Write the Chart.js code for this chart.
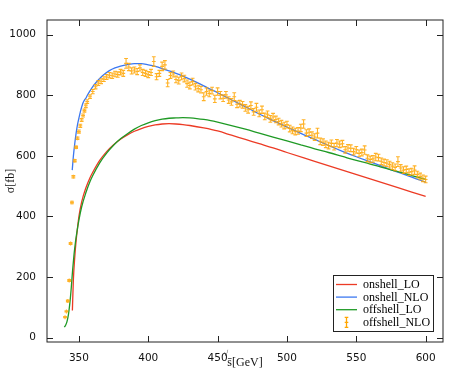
<!DOCTYPE html>
<html>
<head>
<meta charset="utf-8">
<script src="https://cdn.jsdelivr.net/npm/chart.js@4.4.0/dist/chart.umd.min.js"></script>
<style>
  html, body { margin: 0; padding: 0; background: #fff; }
  #wrap { width: 450px; height: 375px; }
</style>
</head>
<body>
<div id="wrap"><canvas id="c" width="450" height="375"></canvas></div>
<script>
// --- data
const xTicks = [350, 400, 450, 500, 550, 600];
const yTicks = [0, 200, 400, 600, 800, 1000];
const seriesNames = ['onshell_LO', 'onshell_NLO', 'offshell_LO', 'offshell_NLO'];

const onLoX = [345.3, 346, 347, 348, 349, 350, 352, 355, 358, 360, 365, 370, 375, 380, 385, 390, 395, 400, 405, 410, 415, 420, 425, 430, 440, 450, 460, 470, 480, 490, 500, 520, 540, 560, 580, 600];
const onLoY = [90, 190, 265, 320, 362, 400, 448, 494, 528, 546, 585, 614, 637, 655, 669, 681, 690, 697, 702, 705, 706, 705, 703, 700, 692, 682, 668, 654, 640, 626, 611, 582, 553, 524, 495, 466];

const onNloX = [345.2, 346, 347, 348, 349, 350, 351, 352, 353, 354, 355, 356, 358, 360, 363, 367, 372, 376, 380, 385, 390, 395, 400, 405, 410, 415, 420, 425, 430, 440, 450, 460, 470, 480, 490, 500, 510, 520, 530, 540, 550, 560, 570, 580, 590, 600];
const onNloY = [553, 598, 640, 675, 703, 724, 744, 761, 775, 784, 790, 799, 814, 828, 845, 864, 881, 890, 896, 901, 904, 904, 900, 895, 888, 880, 872, 863, 853, 831, 808, 785, 762, 738, 716, 695, 674, 654, 634, 615, 597, 580, 563, 546, 530, 513];

const offLoX = [339.5, 340.5, 341.5, 342.5, 343.5, 344.5, 345.5, 346.5, 347.5, 348.5, 350, 352, 355, 358, 360, 365, 370, 375, 380, 385, 390, 395, 400, 405, 410, 415, 420, 425, 430, 435, 440, 445, 450, 460, 470, 480, 490, 500, 510, 520, 530, 540, 550, 560, 570, 580, 590, 600];
const offLoY = [35, 42, 55, 78, 115, 165, 225, 275, 315, 347, 388, 432, 478, 515, 535, 577, 609, 635, 656, 673, 688, 700, 709, 716, 721, 724, 725, 726, 725, 723, 720, 716, 711, 700, 688, 675, 662, 649, 636, 623, 611, 598, 585, 573, 560, 548, 535, 522];

const offNloX = [340, 341, 342, 343, 344, 345, 346, 347, 348, 349, 350, 351, 352, 353, 354, 355,
  356, 358, 360, 362, 364, 366, 368, 370, 372, 374,
  376, 378, 380, 382, 384, 386, 388, 390, 392, 394,
  396, 398, 400, 402, 404, 406, 408, 410, 412, 414,
  416, 418, 420, 422, 424, 426, 428, 430, 432, 434,
  436, 438, 440, 442, 444, 446, 448, 450, 452, 454,
  456, 458, 460, 462, 464, 466, 468, 470, 472, 474,
  476, 478, 480, 482, 484, 486, 488, 490, 492, 494,
  496, 498, 500, 502, 504, 506, 508, 510, 512, 514,
  516, 518, 520, 522, 524, 526, 528, 530, 532, 534,
  536, 538, 540, 542, 544, 546, 548, 550, 552, 554,
  556, 558, 560, 562, 564, 566, 568, 570, 572, 574,
  576, 578, 580, 582, 584, 586, 588, 590, 592, 594,
  596, 598, 600];
const offNloY = [68, 87, 121, 189, 311, 446, 531, 584, 628, 658, 680, 699, 718, 733, 749, 765,
  779, 795, 812, 828, 840, 846, 853, 860, 866, 864,
  870, 868, 876, 872, 905, 893, 880, 883, 878, 890,
  875, 872, 868, 875, 911, 861, 872, 895, 900, 840,
  865, 870, 852, 848, 862, 855, 838, 832, 845, 828,
  822, 818, 795, 812, 806, 815, 788, 812, 800, 790,
  801, 784, 778, 795, 770, 772, 768, 758, 752, 766,
  745, 760, 740, 752, 730, 737, 722, 728, 720, 713,
  706, 700, 703, 690, 684, 680, 682, 692, 705, 675,
  678, 668, 662, 675, 648, 645, 638, 634, 641, 630,
  642, 638, 640, 620, 626, 625, 614, 620, 608, 611,
  619, 592, 588, 590, 596, 594, 582, 578, 576, 571,
  566, 562, 581, 560, 553, 555, 546, 548, 553, 538,
  532, 526, 522];
const offNloErr = [2, 2, 3, 3, 3, 4, 4, 4, 4, 4, 5, 5, 5, 5, 5, 6,
  6, 6, 7, 7, 8, 8, 8, 8, 9, 9,
  9, 9, 9, 10, 16, 12, 10, 10, 10, 10,
  10, 10, 10, 10, 16, 10, 10, 14, 14, 12,
  10, 10, 11, 11, 11, 11, 12, 11, 11, 11,
  11, 11, 13, 12, 11, 11, 12, 12, 12, 11,
  11, 11, 11, 13, 11, 11, 11, 11, 11, 12,
  11, 13, 11, 12, 11, 11, 11, 12, 11, 11,
  11, 11, 11, 11, 11, 11, 11, 12, 14, 11,
  11, 11, 11, 16, 11, 11, 11, 11, 11, 11,
  12, 11, 11, 11, 11, 11, 11, 11, 11, 11,
  14, 11, 11, 11, 12, 11, 11, 11, 11, 11,
  11, 11, 16, 11, 11, 11, 11, 11, 14, 11,
  11, 11, 11];

const RED = '#ec3b25', BLUE = '#3c78f0', GREEN = '#1f9a25', ORANGE = 'rgba(255,165,0,0.85)';
const pts = (xs, ys) => xs.map((x, i) => ({x, y: ys[i]}));

// error bars for the offshell_NLO set, drawn through the chart's own scales
const errorBars = {
  id: 'errorBars',
  afterDatasetsDraw(chart) {
    const {ctx, scales: {x, y}} = chart;
    const a = chart.chartArea;
    ctx.save();
    ctx.beginPath();
    ctx.rect(a.left, a.top, a.right - a.left, a.bottom - a.top);
    ctx.clip();
    ctx.strokeStyle = ORANGE;
    ctx.lineWidth = 1.1;
    const cap = 1.9;
    offNloX.forEach((v, i) => {
      const px = x.getPixelForValue(v);
      const py = y.getPixelForValue(offNloY[i]);
      const lo = y.getPixelForValue(offNloY[i] - offNloErr[i]);
      const hi = y.getPixelForValue(offNloY[i] + offNloErr[i]);
      const half = Math.max((lo - hi) / 2, 2);
      ctx.beginPath();
      ctx.moveTo(px, py - half); ctx.lineTo(px, py + half);
      ctx.moveTo(px - cap, hi); ctx.lineTo(px + cap, hi);
      ctx.moveTo(px - cap, lo); ctx.lineTo(px + cap, lo);
      ctx.moveTo(px - cap, py); ctx.lineTo(px + cap, py);
      ctx.stroke();
    });
    ctx.restore();
  }
};

// inward ticks on all four sides + frame
const frameTicks = {
  id: 'frameTicks',
  afterDraw(chart) {
    const {ctx, chartArea: a, scales: {x, y}} = chart;
    ctx.save();
    ctx.strokeStyle = '#222';
    ctx.lineWidth = 1;
    ctx.strokeRect(a.left, a.top, a.right - a.left, a.bottom - a.top);
    ctx.beginPath();
    xTicks.forEach(v => {
      const px = Math.round(x.getPixelForValue(v)) + 0.5;
      ctx.moveTo(px, a.bottom); ctx.lineTo(px, a.bottom - 6);
      ctx.moveTo(px, a.top); ctx.lineTo(px, a.top + 6);
    });
    yTicks.forEach(v => {
      const py = Math.round(y.getPixelForValue(v)) + 0.5;
      ctx.moveTo(a.left, py); ctx.lineTo(a.left + 6, py);
      ctx.moveTo(a.right, py); ctx.lineTo(a.right - 6, py);
    });
    ctx.stroke();
    // stray sqrt sign of the x label
    ctx.fillStyle = '#222';
    ctx.font = '8px "Liberation Serif"';
    ctx.textAlign = 'center';
    ctx.textBaseline = 'middle';
    ctx.fillText('\u221A', 226, 354);
    ctx.restore();
  }
};

// boxed legend inside the lower right corner
const boxLegend = {
  id: 'boxLegend',
  afterDraw(chart) {
    const {ctx, chartArea: a} = chart;
    const x0 = a.right - 110, y0 = a.bottom - 67, w = 100, h = 56;
    const colors = [RED, BLUE, GREEN, 'rgb(255,165,0)'];
    ctx.save();
    ctx.fillStyle = '#fff';
    ctx.fillRect(x0, y0, w, h);
    ctx.strokeStyle = '#222';
    ctx.lineWidth = 1;
    ctx.strokeRect(x0 + 0.5, y0 + 0.5, w, h);
    ctx.font = '12px "Liberation Serif"';
    ctx.textBaseline = 'middle';
    ctx.textAlign = 'left';
    seriesNames.forEach((name, i) => {
      const yy = y0 + 9.5 + i * 12.6;
      ctx.strokeStyle = colors[i];
      ctx.lineWidth = 1.3;
      ctx.beginPath();
      if (i < 3) {
        ctx.moveTo(x0 + 3, yy); ctx.lineTo(x0 + 24, yy);
      } else {
        const cx = x0 + 13.5;
        ctx.moveTo(cx, yy - 5); ctx.lineTo(cx, yy + 5);
        ctx.moveTo(cx - 1.8, yy - 5); ctx.lineTo(cx + 1.8, yy - 5);
        ctx.moveTo(cx - 1.8, yy + 5); ctx.lineTo(cx + 1.8, yy + 5);
        ctx.moveTo(cx - 1.8, yy); ctx.lineTo(cx + 1.8, yy);
      }
      ctx.stroke();
      ctx.fillStyle = '#000';
      ctx.fillText(name, x0 + 30, yy + 0.5);
    });
    ctx.restore();
  }
};

const tickFont = {family: '"DejaVu Sans"', size: 10.5};
const lineSet = (label, data, color, order) => ({
  label, data, borderColor: color, backgroundColor: color, borderWidth: 1.3,
  pointRadius: 0, cubicInterpolationMode: 'monotone', order, showLine: true
});

new Chart(document.getElementById('c'), {
  type: 'scatter',
  data: {
    datasets: [
      lineSet(seriesNames[0], pts(onLoX, onLoY), RED, 3),
      lineSet(seriesNames[1], pts(onNloX, onNloY), BLUE, 2),
      lineSet(seriesNames[2], pts(offLoX, offLoY), GREEN, 1),
      {label: seriesNames[3], data: pts(offNloX, offNloY), pointRadius: 0, showLine: false, order: 0}
    ]
  },
  options: {
    responsive: false,
    animation: false,
    layout: {padding: {top: 20, right: 7, left: 0, bottom: 0}},
    plugins: {legend: {display: false}, tooltip: {enabled: false}},
    scales: {
      x: {
        type: 'linear', min: 327, max: 612.5,
        afterBuildTicks: s => { s.ticks = xTicks.map(v => ({value: v})); },
        afterFit: s => { s.height = 33; },
        grid: {display: false}, border: {display: false},
        ticks: {font: tickFont, color: '#111', padding: 2, maxRotation: 0, callback: v => String(v)},
        title: {display: true, text: 's\u0304[GeV]', color: '#111', align: 'center',
                font: {family: '"Liberation Serif"', size: 12}, padding: {top: 0, bottom: 5}}
      },
      y: {
        type: 'linear', min: -14, max: 1048,
        afterBuildTicks: s => { s.ticks = yTicks.map(v => ({value: v})); },
        afterFit: s => { s.width = 47; },
        grid: {display: false}, border: {display: false},
        ticks: {font: tickFont, color: '#111', padding: 3, callback: v => String(v)},
        title: {display: true, text: '\u03C3[fb]', color: '#111',
                font: {family: '"Liberation Serif"', size: 12}, padding: {top: 4, bottom: 0}}
      }
    }
  },
  plugins: [errorBars, frameTicks, boxLegend]
});
</script>
</body>
</html>
